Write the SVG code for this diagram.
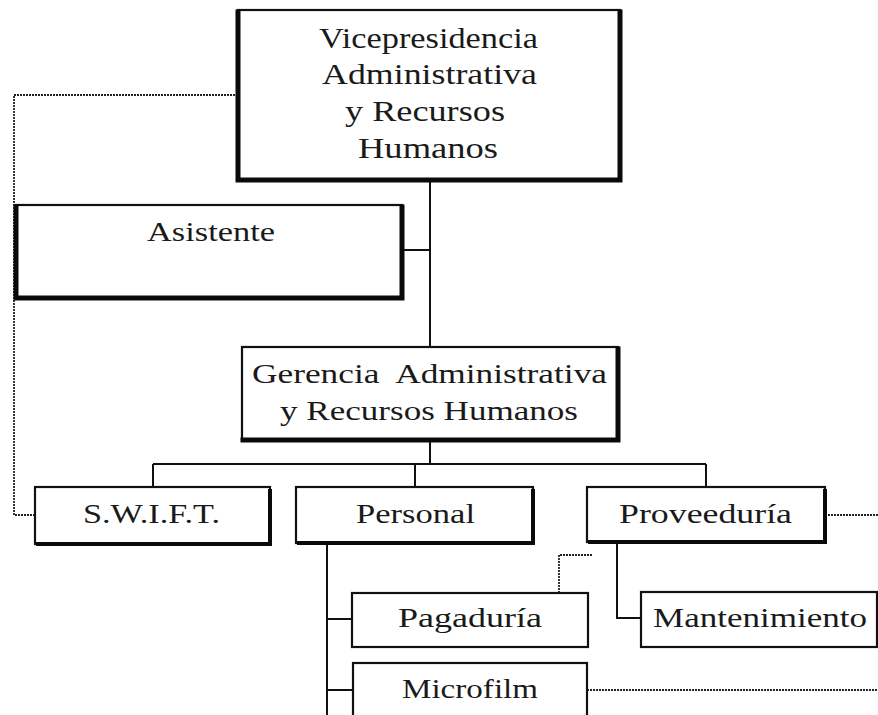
<svg xmlns="http://www.w3.org/2000/svg" width="878" height="715" viewBox="0 0 878 715">
  <style>
    .box { fill: #fff; stroke: #111; stroke-width: 2.2; }
    .shadow { fill: none; stroke: #0a0a0a; stroke-width: 5; stroke-linecap: square; }
    .shadow-s { fill: none; stroke: #0a0a0a; stroke-width: 4; }
    .solid { fill: none; stroke: #111; stroke-width: 2; }
    .dot { fill: none; stroke: #222; stroke-width: 1.8; stroke-dasharray: 2 1; }
    .lbl { font-family: "Liberation Serif", "Times New Roman", serif; font-size: 28px; fill: #1a1a1a; }
    .big { font-size: 29px; }
  </style>
  <rect width="878" height="715" fill="#fff"/>

  <g id="connectors">
    <path class="solid" d="M430 180 V347"/>
    <path class="solid" d="M402 250 H430"/>
    <path class="solid" d="M430 440 V464"/>
    <path class="solid" d="M153 464 H706"/>
    <path class="solid" d="M153 464 V487 M415 464 V487 M706 464 V487"/>
    <path class="solid" d="M327 543 V715 M327 619 H352 M327 690 H353"/>
    <path class="solid" d="M617 542 V618 H641"/>
    <path class="dot" d="M238 95 H14 V515 H35"/>
    <path class="dot" d="M825 515 H878"/>
    <path class="dot" d="M559 593 V555 H592"/>
    <path class="dot" d="M587 690 H878"/>
  </g>

  <g id="vicepresidencia">
    <rect class="box" x="238" y="10" width="382" height="170"/>
    <path class="shadow" d="M238 12 V180 H620 V12"/>
    <text class="lbl big" x="319" y="48" textLength="219" lengthAdjust="spacingAndGlyphs">Vicepresidencia</text>
    <text class="lbl big" x="322" y="84" textLength="215" lengthAdjust="spacingAndGlyphs">Administrativa</text>
    <text class="lbl big" x="345" y="121" textLength="160" lengthAdjust="spacingAndGlyphs">y Recursos</text>
    <text class="lbl big" x="358" y="158" textLength="140" lengthAdjust="spacingAndGlyphs">Humanos</text>
  </g>

  <g id="asistente">
    <rect class="box" x="16" y="205" width="386" height="93"/>
    <path class="shadow" d="M16 207 V298 H402 V207"/>
    <text class="lbl" x="147" y="241" textLength="128" lengthAdjust="spacingAndGlyphs">Asistente</text>
  </g>

  <g id="gerencia">
    <rect class="box" x="242" y="347" width="376" height="93"/>
    <path class="shadow" d="M243 440 H618 V349"/>
    <text class="lbl" x="252" y="383" textLength="355" lengthAdjust="spacingAndGlyphs" xml:space="preserve">Gerencia  Administrativa</text>
    <text class="lbl" x="280" y="420" textLength="298" lengthAdjust="spacingAndGlyphs">y Recursos Humanos</text>
  </g>

  <g id="swift">
    <rect class="box" x="35" y="487" width="235" height="57"/>
    <path class="shadow-s" d="M36 544 H270 V489"/>
    <text class="lbl" x="83" y="523" textLength="137" lengthAdjust="spacingAndGlyphs">S.W.I.F.T.</text>
  </g>

  <g id="personal">
    <rect class="box" x="296" y="487" width="237" height="56"/>
    <path class="shadow-s" d="M297 543 H533 V489"/>
    <text class="lbl" x="356" y="523" textLength="119" lengthAdjust="spacingAndGlyphs">Personal</text>
  </g>

  <g id="proveeduria">
    <rect class="box" x="587" y="487" width="238" height="55"/>
    <path class="shadow-s" d="M588 542 H825 V489"/>
    <text class="lbl" x="619" y="523" textLength="173" lengthAdjust="spacingAndGlyphs">Proveeduría</text>
  </g>

  <g id="pagaduria">
    <rect class="box" x="352" y="593" width="236" height="54"/>
    <text class="lbl" x="398" y="627" textLength="144" lengthAdjust="spacingAndGlyphs">Pagaduría</text>
  </g>

  <g id="mantenimiento">
    <rect class="box" x="641" y="592" width="236" height="55"/>
    <text class="lbl" x="653" y="627" textLength="214" lengthAdjust="spacingAndGlyphs">Mantenimiento</text>
  </g>

  <g id="microfilm">
    <rect class="box" x="353" y="663" width="234" height="70"/>
    <text class="lbl" x="402" y="698" textLength="136" lengthAdjust="spacingAndGlyphs">Microfilm</text>
  </g>
</svg>
